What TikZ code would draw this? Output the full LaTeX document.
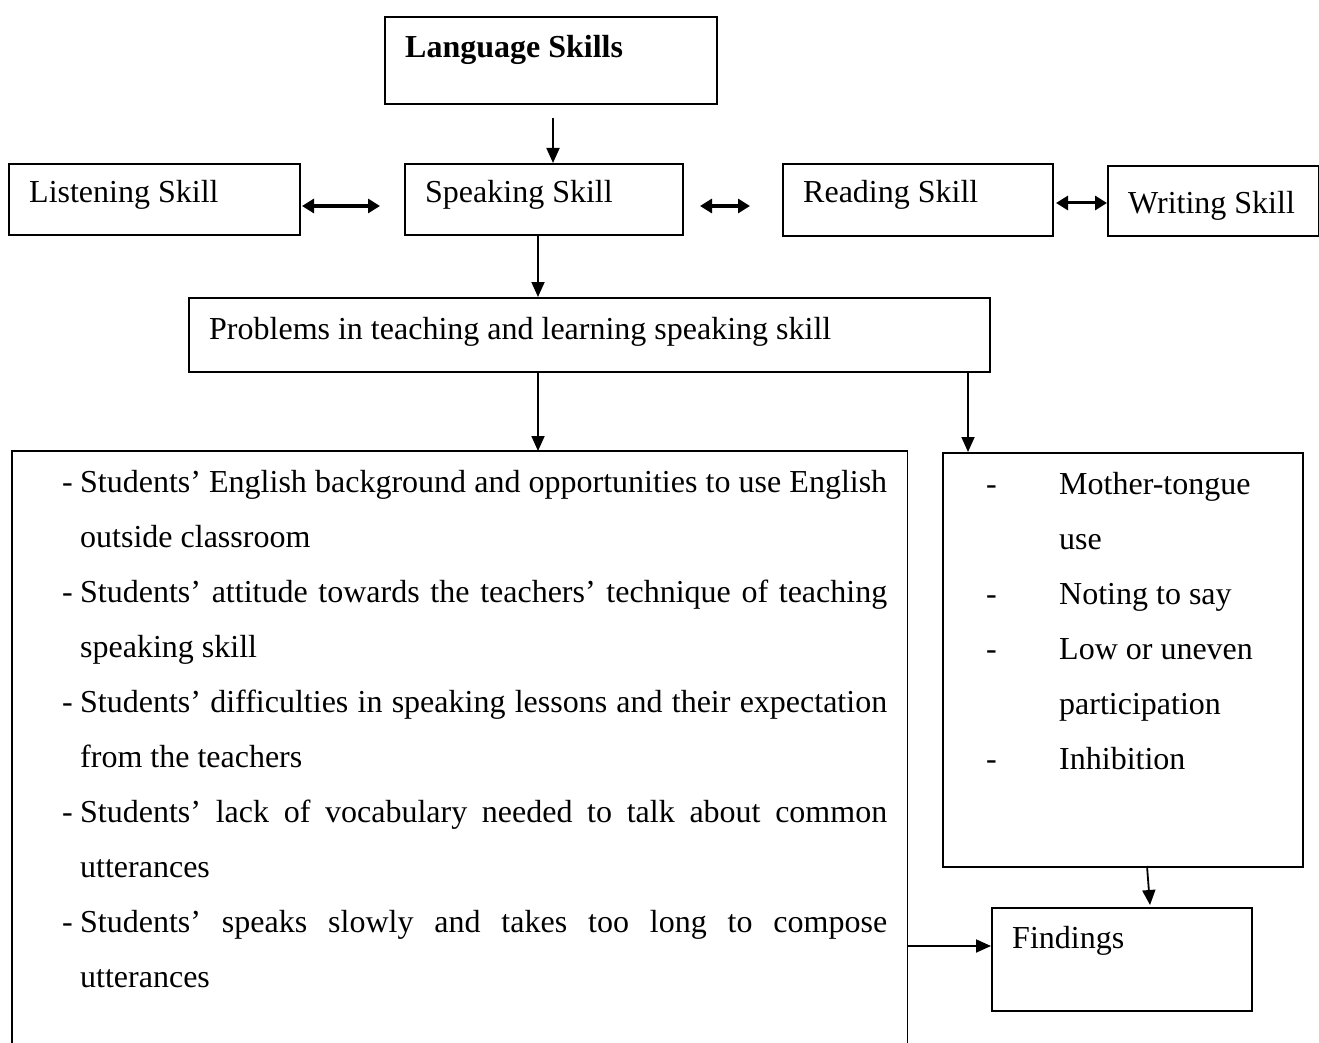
\documentclass[tikz,border=0pt]{standalone}
\usepackage{fontspec}
\setmainfont{Liberation Serif}
\usetikzlibrary{arrows.meta}
\begin{document}
\begin{tikzpicture}[x=1pt,y=-1pt,
  box/.style={draw,line width=1.8pt,rectangle,anchor=north west,inner sep=0pt},
  lbl/.style={anchor=base west,inner sep=0pt,font=\fontsize{32}{55}\selectfont},
  itm/.style={anchor=base west,inner sep=0pt,text width=807pt,align=justify,font=\fontsize{32}{55}\selectfont},
  ritm/.style={anchor=base west,inner sep=0pt,text width=230pt,align=flush left,font=\fontsize{32}{55}\selectfont},
  arr/.style={line width=1.8pt,-{Triangle[length=15pt,width=13pt]}},
  darr/.style={line width=3pt,{Triangle[length=12pt,width=14pt]}-{Triangle[length=12pt,width=14pt]}}]
\useasboundingbox (0,0) rectangle (1319,1043);
% boxes
\node[box,minimum width=332pt,minimum height=87pt] (lang) at (384,16) {};
\node[box,minimum width=291pt,minimum height=71pt] (listen) at (8,163) {};
\node[box,minimum width=278pt,minimum height=71pt] (speak) at (404,163) {};
\node[box,minimum width=270pt,minimum height=72pt] (read) at (782,163) {};
\node[box,minimum width=211pt,minimum height=70pt] (write) at (1107,165) {};
\node[box,minimum width=801pt,minimum height=74pt] (prob) at (188,297) {};
\node[anchor=north west,inner sep=0pt,minimum width=895pt,minimum height=592pt] (left) at (12,451) {};
\draw[line width=1.8pt] (left.south west) -- (left.north west) -- (left.north east) -- (left.south east);
\node[box,minimum width=360pt,minimum height=414pt] (right) at (942,452) {};
\node[box,minimum width=260pt,minimum height=103pt] (find) at (991,907) {};
% labels
\node[lbl] (tlang) at (405,58) {\bfseries Language Skills};
\node[lbl] (tlisten) at (29,203) {Listening Skill};
\node[lbl] (tspeak) at (425,203) {Speaking Skill};
\node[lbl] (tread) at (803,203) {Reading Skill};
\node[lbl] (twrite) at (1128,213) {Writing Skill};
\node[lbl] (tprob) at (209,339) {Problems in teaching and learning speaking skill};
\node[lbl] (tfind) at (1012,948) {Findings};
% left items
\foreach \y in {492,602,712,822,932} {\node[lbl] at (62,\y) {-};}
\node[itm] (i1) at (80,492) {Students’ English background and opportunities to use English\linebreak outside classroom};
\node[itm] (i2) at (80,602) {Students’ attitude towards the teachers’ technique of teaching\linebreak speaking skill};
\node[itm] (i3) at (80,712) {Students’ difficulties in speaking lessons and their expectation\linebreak from the teachers};
\node[itm] (i4) at (80,822) {Students’ lack of vocabulary needed to talk about common\linebreak utterances};
\node[itm] (i5) at (80,932) {Students’ speaks slowly and takes too long to compose\linebreak utterances};
% right items
\foreach \y in {494,604,659,769} {\node[lbl] at (986,\y) {-};}
\node[ritm] (r1) at (1059,494) {Mother-tongue\\use};
\node[ritm] (r2) at (1059,604) {Noting to say};
\node[ritm] (r3) at (1059,659) {Low or uneven\\participation};
\node[ritm] (r4) at (1059,769) {Inhibition};
% connectors
\coordinate (a1) at (553,118);
\draw[arr] (a1) -- (speak.north -| a1);
\coordinate (a2) at (538,234);
\draw[arr] (speak.south -| a2) -- (prob.north -| a2);
\draw[arr] (prob.south -| a2) -- (left.north -| a2);
\coordinate (a3) at (968,371);
\draw[arr] (prob.south -| a3) -- (right.north -| a3);
\coordinate (l1) at (302,206); \coordinate (l2) at (380,206);
\draw[darr] (l1) -- (l2);
\coordinate (m1) at (700,206); \coordinate (m2) at (750,206);
\draw[darr] (m1) -- (m2);
\coordinate (n1) at (1056,203);
\draw[darr] (n1) -- (write.west |- n1);
\coordinate (f1) at (1147,866); \coordinate (f2) at (1150,905);
\draw[arr] (f1) -- (f2);
\coordinate (g1) at (907,946);
\draw[arr] (g1) -- (find.west |- g1);
\end{tikzpicture}
\end{document}
